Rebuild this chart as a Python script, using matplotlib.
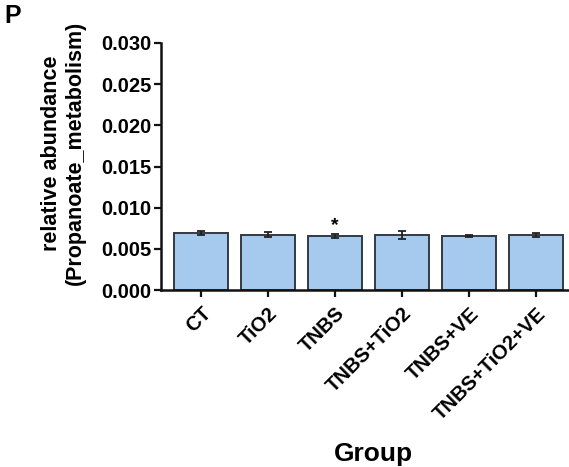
import matplotlib
matplotlib.use("Agg")
import matplotlib.pyplot as plt
import numpy as np

plt.rcParams['font.family'] = ['Liberation Sans', 'DejaVu Sans']
plt.rcParams['font.weight'] = 'bold'

categories = ["CT", "TiO2", "TNBS", "TNBS+TiO2", "TNBS+VE", "TNBS+TiO2+VE"]
values = [0.00690, 0.00674, 0.00655, 0.00667, 0.00660, 0.00670]
errors = [0.00024, 0.00030, 0.00022, 0.00050, 0.00014, 0.00028]
significance = ["", "", "*", "", "", ""]
yticks = [0.000, 0.005, 0.010, 0.015, 0.020, 0.025, 0.030]

fig = plt.figure(figsize=(5.69, 4.67), dpi=100)
ax = fig.add_axes([161/569, 1-290/467, 415/569, 247/467])

x = np.arange(len(categories))
ax.bar(x, values, width=0.8, color='#a6c9ee', edgecolor='#333a44', linewidth=1.4, zorder=2)
ax.errorbar(x, values, yerr=errors, fmt='none', ecolor='#222222', elinewidth=1.3,
            capsize=3, capthick=1.3, zorder=3)
for xi, v, e, s in zip(x, values, errors, significance):
    if s:
        ax.annotate(s, (xi, v + e), xytext=(0, 0), textcoords='offset points',
                    ha='center', va='bottom', fontsize=14, fontweight='bold')

ax.set_xlim(-0.6, 5.6)
ax.set_ylim(0, 0.030)
ax.set_yticks(yticks)
ax.set_yticklabels([f"{t:.3f}" for t in yticks], fontsize=14.5, fontweight='bold')
ax.set_xticks(x)
ax.set_xticklabels(categories, rotation=45, ha='right', rotation_mode='anchor',
                   fontsize=14.5, fontweight='bold')
ax.tick_params(axis='both', direction='out', length=5, width=1.6, color='#111111')
ax.tick_params(axis='y', pad=2)
ax.tick_params(axis='x', pad=5)

for side in ['top', 'right']:
    ax.spines[side].set_visible(False)
for side in ['left', 'bottom']:
    ax.spines[side].set_linewidth(1.8)
    ax.spines[side].set_color('#111111')

ax.set_ylabel("relative abundance\n(Propanoate_metabolism)", fontsize=15.5,
              fontweight='bold', linespacing=1.2)
ax.yaxis.set_label_coords(-0.18, 0.555)
ax.set_xlabel("Group", fontsize=19, fontweight='bold', va='top')
ax.xaxis.set_label_coords(0.513, -0.617)

fig.text(4/569, 1-4/467, "P", fontsize=18, fontweight='bold', ha='left', va='top')

fig.savefig("out.png", dpi=100)
